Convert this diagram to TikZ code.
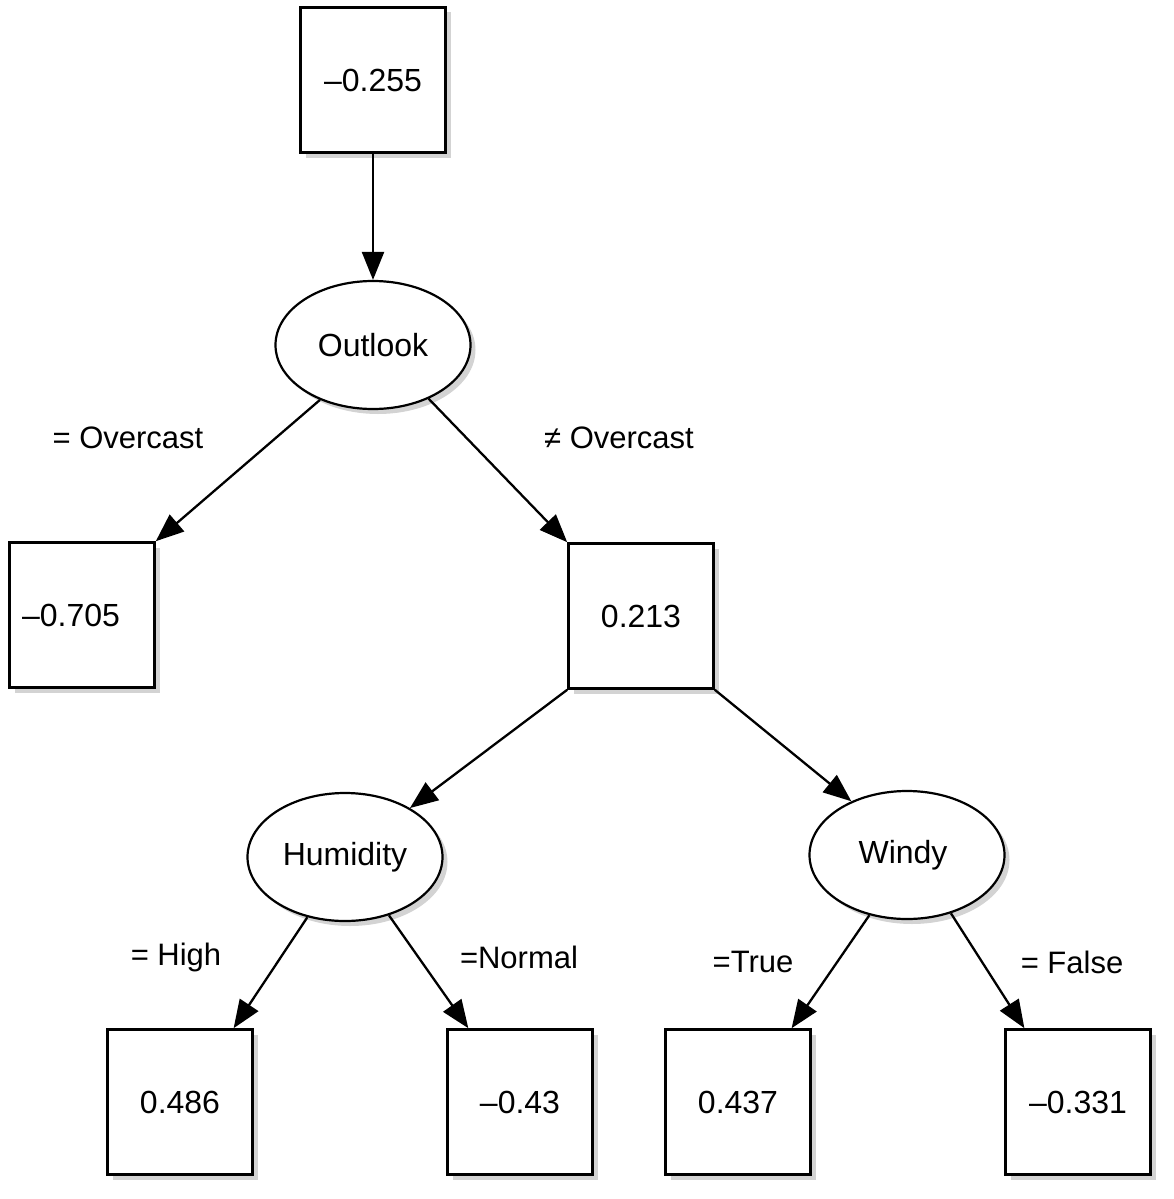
\documentclass[tikz,border=0pt]{standalone}
\usepackage{fontspec}
\setmainfont{Liberation Sans}
\usetikzlibrary{arrows.meta,shadows,shapes.geometric}
\begin{document}
\begin{tikzpicture}[x=1pt,y=-1pt,
  every node/.style={font=\fontsize{32}{38}\selectfont},
  valbox/.style={draw,line width=2.6pt,fill=white,minimum width=145pt,minimum height=145pt,inner sep=0pt,
    drop shadow={shadow xshift=5pt,shadow yshift=-5pt,opacity=0.35}},
  attr/.style={ellipse,draw,line width=2.2pt,fill=white,minimum width=195pt,minimum height=128pt,inner sep=0pt,
    drop shadow={shadow xshift=5pt,shadow yshift=-5pt,opacity=0.35}},
  edge/.style={line width=2.3pt,-{Triangle[length=28pt,width=22pt]}},
  lab/.style={font=\fontsize{31}{36}\selectfont}]
\useasboundingbox (0,0) rectangle (1174,1199);
\node[valbox] (root) at (373,80) {–0.255};
\node[attr] (outlook) at (373,345) {Outlook};
\node[valbox] (n705) at (82,615) {\hspace*{-22pt}–0.705};
\node[valbox] (n213) at (641,616) {0.213};
\node[attr] (humid) at (345,857) {Humidity};
\node[attr] (windy) at (907,855) {\hspace*{-8pt}Windy};
\node[valbox] (n486) at (180,1102) {0.486};
\node[valbox] (n43) at (520,1102) {–0.43};
\node[valbox] (n437) at (738,1102) {0.437};
\node[valbox] (n331) at (1078,1102) {–0.331};
\draw[edge] (root.south) -- (outlook.north);
\draw[edge] (outlook.-134) -- (n705.north east);
\draw[edge] (outlook.-44) -- (n213.north west);
\draw[edge] (n213.south west) -- (humid.37);
\draw[edge] (n213.south east) -- (windy.136);
\draw[edge] (humid.-122) -- (n486.54);
\draw[edge] (humid.-53) -- (n43.125);
\draw[edge] (windy.-122) -- (n437.54);
\draw[edge] (windy.-53) -- (n331.126);
\node[lab] (l1) at (128,438) {= Overcast};
\node[lab] (l2) at (619,438) {≠ Overcast};
\node[lab] (l3) at (176,957) {= High};
\node[lab] (l4) at (519,957) {=Normal};
\node[lab] (l5) at (753,962) {=True};
\node[lab] (l6) at (1072,962) {= False};
\end{tikzpicture}
\end{document}
